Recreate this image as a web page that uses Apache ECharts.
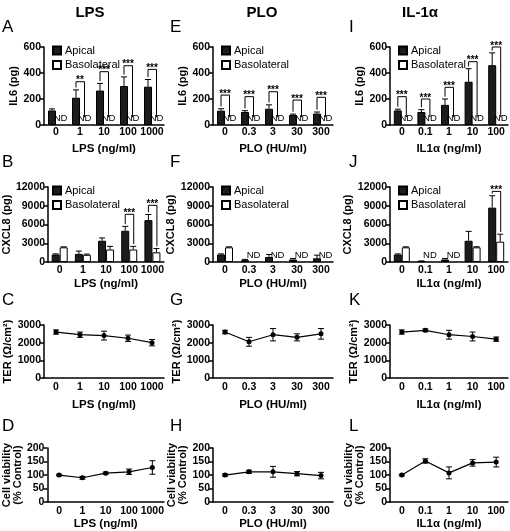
<!DOCTYPE html>
<html><head><meta charset="utf-8">
<script src="https://cdn.jsdelivr.net/npm/echarts@6/dist/echarts.min.js"></script>
<style>html,body{margin:0;padding:0;background:#fff}#c{width:510px;height:531px}</style>
</head><body><div id="c"></div><script>
// ---------- categories ----------
const catLPS = ['0','1','10','100','1000'];
const catPLO = ['0','0.3','3','30','300'];
const catIL1 = ['0','0.1','1','10','100'];

// ---------- IL6 (pg) : basolateral not detected (null = ND) ----------
const il6LpsApical = [112,210,265,300,295];
const il6LpsApicalErr = [12,60,55,70,55];
const il6LpsBaso = [null,null,null,null,null];
const il6PloApical = [110,100,125,77,88];
const il6PloApicalErr = [15,10,30,7,12];
const il6PloBaso = [null,null,null,null,null];
const il6Il1Apical = [112,100,155,333,460];
const il6Il1ApicalErr = [10,18,45,100,95];
const il6Il1Baso = [null,null,null,null,null];

// ---------- CXCL8 (pg) ----------
const cxLpsApical = [1200,1300,3400,5000,6700];
const cxLpsApicalErr = [100,450,450,700,900];
const cxLpsBaso = [2350,1150,2000,2000,1550];
const cxLpsBasoErr = [80,120,500,500,600];
const cxPloApical = [1200,300,800,400,600];
const cxPloApicalErr = [100,120,400,150,500];
const cxPloBaso = [2350,null,null,null,null];
const cxPloBasoErr = [80,0,0,0,0];
const cxIl1Apical = [1200,120,400,3400,8700];
const cxIl1ApicalErr = [100,60,150,1500,1900];
const cxIl1Baso = [2350,null,null,2350,3250];
const cxIl1BasoErr = [80,0,0,100,1200];

// ---------- significance brackets: [category index, bracket height, stars] ----------
const sigIl6Lps = [[1,333,'**'],[2,410,'***'],[3,456,'***'],[4,428,'***']];
const sigIl6Plo = [[0,230,'***'],[1,218,'***'],[2,256,'***'],[3,192,'***'],[4,213,'***']];
const sigIl6Il1 = [[0,218,'***'],[1,200,'***'],[2,290,'***'],[3,487,'***'],[4,600,'***']];
const sigCxLps = [[3,7630,'***'],[4,9070,'***']];
const sigCxPlo = [];
const sigCxIl1 = [[4,11300,'***']];

// ---------- TER (Ω/cm²) ----------
const terLps = [2600,2450,2400,2250,2000];
const terLpsErr = [120,150,250,180,180];
const terPlo = [2600,2050,2450,2300,2500];
const terPloErr = [100,250,350,200,300];
const terIl1 = [2600,2700,2450,2350,2200];
const terIl1Err = [120,80,250,250,120];

// ---------- Cell viability (% control) ----------
const viaLps = [100,90,107,112,128];
const viaLpsErr = [3,5,4,10,25];
const viaPlo = [100,112,112,105,98];
const viaPloErr = [4,6,20,8,12];
const viaIl1 = [100,152,108,145,148];
const viaIl1Err = [3,8,22,12,18];

const FONT = "'Liberation Sans', Arial, Helvetica, sans-serif";
const cols = [{left:44,width:120},{left:213,width:120},{left:390,width:118}];
const rows = [{top:47,height:78},{top:187,height:75},{top:325,height:53},{top:448,height:55}];

const grid=[], xAxis=[], yAxis=[], series=[], legend=[], graphic=[];
let gi = 0;

function addAxes(c, r, cats, xName, yName, ymax, yint, yGap, lblMargin, xGap){
  grid.push({left:cols[c].left, top:rows[r].top, width:cols[c].width, height:rows[r].height, containLabel:false});
  xAxis.push({type:'category', gridIndex:gi, data:cats,
    axisLine:{lineStyle:{color:'#000',width:1.5}}, axisTick:{show:false},
    axisLabel:{color:'#000',fontWeight:'bold',fontSize:10.5,fontFamily:FONT,margin:lblMargin,interval:0},
    name:xName, nameLocation:'middle', nameGap:xGap,
    nameTextStyle:{color:'#000',fontWeight:'bold',fontSize:11.5,fontFamily:FONT}});
  yAxis.push({type:'value', gridIndex:gi, min:0, max:ymax, interval:yint,
    axisLine:{show:true,lineStyle:{color:'#000',width:1.5}},
    axisTick:{show:true,length:4,lineStyle:{color:'#000',width:1.5}},
    splitLine:{show:false},
    axisLabel:{color:'#000',fontWeight:'bold',fontSize:10.5,fontFamily:FONT,margin:3,formatter:v=>String(v)},
    name:yName, nameLocation:'middle', nameGap:yGap, nameRotate:90,
    nameTextStyle:{color:'#000',fontWeight:'bold',fontSize:11,fontFamily:FONT,lineHeight:11}});
}

function errSeries(vals, errs, off, both){
  const d=[];
  vals.forEach((v,i)=>{ if(v!=null && errs[i]>0) d.push([i,v,errs[i]]); });
  return {type:'custom', xAxisIndex:gi, yAxisIndex:gi, data:d, encode:{x:0,y:1}, z:5, silent:true,
    renderItem:(p,api)=>{
      const i=api.value(0), v=api.value(1), e=api.value(2);
      const t=api.coord([i,v+e]); const b=api.coord([i, both? v-e : v]);
      const x=t[0]+off;
      const ch=[{type:'line',shape:{x1:x,y1:b[1],x2:x,y2:t[1]},style:{stroke:'#000',lineWidth:1}},
                {type:'line',shape:{x1:x-3,y1:t[1],x2:x+3,y2:t[1]},style:{stroke:'#000',lineWidth:1}}];
      if(both) ch.push({type:'line',shape:{x1:x-3,y1:b[1],x2:x+3,y2:b[1]},style:{stroke:'#000',lineWidth:1}});
      return {type:'group',children:ch};
    }};
}

function barPanel(c, r, cats, xName, yName, ymax, yint, yGap, lblMargin, xGap, ap, apE, ba, baE, sig){
  addAxes(c, r, cats, xName, yName, ymax, yint, yGap, lblMargin, xGap);
  series.push({type:'bar', name:'Apical', xAxisIndex:gi, yAxisIndex:gi, data:ap, barWidth:8, barGap:'0%',
    itemStyle:{color:'#1c1c1c',borderColor:'#000',borderWidth:1}, silent:true});
  series.push({type:'bar', name:'Basolateral', xAxisIndex:gi, yAxisIndex:gi, data:ba.map(v=>v==null?'-':v), barWidth:8, barGap:'0%',
    itemStyle:{color:'#fff',borderColor:'#000',borderWidth:1}, silent:true});
  series.push(errSeries(ap, apE, -4, false));
  if(baE) series.push(errSeries(ba, baE, 4, false));
  // ND labels
  const nd=[]; ba.forEach((v,i)=>{ if(v==null) nd.push([i,0]); });
  series.push({type:'custom', xAxisIndex:gi, yAxisIndex:gi, data:nd, encode:{x:0,y:1}, z:6, silent:true,
    renderItem:(p,api)=>{ const pt=api.coord([api.value(0),0]);
      return {type:'text', style:{x:pt[0]+4.5, y:pt[1]-1.5, text:'ND', textAlign:'center', textVerticalAlign:'bottom',
        font:'9.5px '+FONT, fill:'#000'}}; }});
  // significance brackets
  const pad = ymax*0.03;
  series.push({type:'custom', xAxisIndex:gi, yAxisIndex:gi, data:sig.map(s=>[s[0],s[1]]), encode:{x:0,y:1}, z:6, silent:true,
    renderItem:(p,api)=>{
      const s=sig[p.dataIndex]; const i=s[0];
      const lTop = ap[i] + apE[i] + pad;
      const rTop = ba[i]==null ? ymax*0.1 : ba[i] + (baE?baE[i]:0) + pad;
      const top=api.coord([i,s[1]]); const lb=api.coord([i,lTop]); const rb=api.coord([i,rTop]);
      const xl=top[0]-4, xr=top[0]+4.5;
      return {type:'group',children:[
        {type:'polyline',shape:{points:[[xl,lb[1]],[xl,top[1]],[xr,top[1]],[xr,rb[1]]]},style:{stroke:'#000',lineWidth:1,fill:null}},
        {type:'text',style:{x:top[0],y:top[1]+4,text:s[2],textAlign:'center',textVerticalAlign:'bottom',font:'bold 10px '+FONT,fill:'#000'}}
      ]};
    }});
  legend.push({data:['Apical','Basolateral'], orient:'vertical', left:cols[c].left+8, top:rows[r].top-2,
    padding:0, itemWidth:8, itemHeight:8, itemGap:3.5, icon:'rect', selectedMode:false,
    textStyle:{color:'#000',fontSize:11,fontFamily:FONT,padding:[0,0,0,-1]}});
  gi++;
}

function linePanel(c, r, cats, xName, yName, ymax, yint, yGap, lblMargin, xGap, vals, errs){
  addAxes(c, r, cats, xName, yName, ymax, yint, yGap, lblMargin, xGap);
  series.push({type:'line', name:'mean', xAxisIndex:gi, yAxisIndex:gi, data:vals, symbol:'circle', symbolSize:5,
    itemStyle:{color:'#000'}, lineStyle:{color:'#000',width:1.2}, silent:true, z:4});
  series.push(errSeries(vals, errs, 0, true));
  gi++;
}

const xn = ['LPS (ng/ml)','PLO (HU/ml)','IL1\u03b1 (ng/ml)'];

barPanel(0,0,catLPS,xn[0],'IL6 (pg)',600,200,21,2,18, il6LpsApical,il6LpsApicalErr,il6LpsBaso,null,sigIl6Lps);
barPanel(1,0,catPLO,xn[1],'IL6 (pg)',600,200,21,2,18, il6PloApical,il6PloApicalErr,il6PloBaso,null,sigIl6Plo);
barPanel(2,0,catIL1,xn[2],'IL6 (pg)',600,200,21,2,18, il6Il1Apical,il6Il1ApicalErr,il6Il1Baso,null,sigIl6Il1);

barPanel(0,1,catLPS,xn[0],'CXCL8 (pg)',12000,3000,27,3,16, cxLpsApical,cxLpsApicalErr,cxLpsBaso,cxLpsBasoErr,sigCxLps);
barPanel(1,1,catPLO,xn[1],'CXCL8 (pg)',12000,3000,27,3,16, cxPloApical,cxPloApicalErr,cxPloBaso,cxPloBasoErr,sigCxPlo);
barPanel(2,1,catIL1,xn[2],'CXCL8 (pg)',12000,3000,27,3,16, cxIl1Apical,cxIl1ApicalErr,cxIl1Baso,cxIl1BasoErr,sigCxIl1);

linePanel(0,2,catLPS,xn[0],'TER (\u03a9/cm\u00b2)',3000,1000,27,4,21, terLps,terLpsErr);
linePanel(1,2,catPLO,xn[1],'TER (\u03a9/cm\u00b2)',3000,1000,27,4,21, terPlo,terPloErr);
linePanel(2,2,catIL1,xn[2],'TER (\u03a9/cm\u00b2)',3000,1000,27,4,21, terIl1,terIl1Err);

linePanel(0,3,catLPS,xn[0],'Cell viability\n(% Control)',200,50,21,4,15, viaLps,viaLpsErr);
linePanel(1,3,catPLO,xn[1],'Cell viability\n(% Control)',200,50,21,4,15, viaPlo,viaPloErr);
linePanel(2,3,catIL1,xn[2],'Cell viability\n(% Control)',200,50,21,4,15, viaIl1,viaIl1Err);

// column titles
[['LPS',90],['PLO',262],['IL-1\u03b1',420]].forEach(t=>{
  graphic.push({type:'text', x:t[1], y:13, style:{text:t[0], textAlign:'center', textVerticalAlign:'middle',
    font:'bold 15px '+FONT, fill:'#000'}});
});
// panel letters
const letters = [['A','B','C','D'],['E','F','G','H'],['I','J','K','L']];
const lx = [2,170,349], ly = [27,162,300,426];
letters.forEach((col,ci)=>col.forEach((L,ri)=>{
  graphic.push({type:'text', x:lx[ci], y:ly[ri], style:{text:L, textAlign:'left', textVerticalAlign:'middle',
    font:'17px '+FONT, fill:'#000'}});
}));

const chart = echarts.init(document.getElementById('c'), null, {renderer:'canvas'});
chart.setOption({animation:false, backgroundColor:'#fff', grid, xAxis, yAxis, series, legend, graphic});
</script></body></html>
